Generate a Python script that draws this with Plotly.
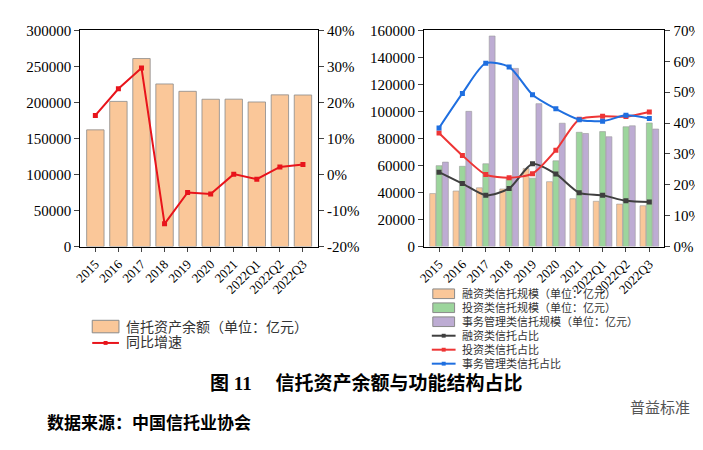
import plotly.graph_objects as go

periods = ['2015', '2016', '2017', '2018', '2019', '2020', '2021', '2022Q1', '2022Q2', '2022Q3']

# left chart
total_assets = [162000, 201500, 261000, 225700, 215500, 204500, 204600, 200700, 210600, 210400]
yoy_growth = [16.4, 23.8, 29.6, -13.7, -5.0, -5.4, 0.1, -1.3, 2.1, 2.8]

# right chart
financing_scale = [39200, 41100, 43500, 42600, 57800, 48000, 35400, 33500, 31400, 30200]
investment_scale = [59900, 59400, 61300, 50500, 50600, 63500, 84600, 85100, 88700, 91500]
affairs_scale = [62500, 100100, 155900, 131900, 105800, 91300, 83700, 81300, 89400, 87000]
financing_share = [24.1, 20.4, 16.6, 18.8, 26.8, 23.5, 17.4, 16.6, 14.8, 14.4]
investment_share = [36.8, 29.5, 23.3, 22.3, 23.6, 31.2, 41.2, 42.2, 42.1, 43.6]
affairs_share = [38.4, 49.6, 59.4, 58.2, 49.2, 44.6, 41.1, 40.6, 42.5, 41.5]

left_ticks = [0, 50000, 100000, 150000, 200000, 250000, 300000]
left_pct = [-20, -10, 0, 10, 20, 30, 40]
right_ticks = [0, 20000, 40000, 60000, 80000, 100000, 120000, 140000, 160000]
right_pct = [0, 10, 20, 30, 40, 50, 60, 70]

NUMFONT = 'Liberation Serif, Times New Roman, serif'
CNFONT = 'Liberation Serif, Noto Sans CJK SC'
ORANGE = '#FAC799'
GREEN = '#9CD59C'
PURPLE = '#BDACD3'
W, H = 703, 450

fig = go.Figure()

fig.add_trace(go.Bar(
    x=periods, y=total_assets, name='信托资产余额（单位：亿元）',
    marker=dict(color=ORANGE, line=dict(color='#8a8a8a', width=0.8)),
    xaxis='x', yaxis='y'))
fig.add_trace(go.Scatter(
    x=periods, y=yoy_growth, name='同比增速', mode='lines+markers',
    line=dict(color='#E8141B', width=2), marker=dict(symbol='square', size=5),
    xaxis='x', yaxis='y2'))

bar_series = [(financing_scale, '融资类信托规模（单位：亿元）', ORANGE),
              (investment_scale, '投资类信托规模（单位：亿元）', GREEN),
              (affairs_scale, '事务管理类信托规模（单位：亿元）', PURPLE)]
line_series = [(financing_share, '融资类信托占比', '#3F3F3F'),
               (investment_share, '投资类信托占比', '#EE3535'),
               (affairs_share, '事务管理类信托占比', '#1F6FE0')]

for vals, name, col in bar_series:
    fig.add_trace(go.Bar(
        x=periods, y=vals, name=name,
        marker=dict(color=col, line=dict(color='#9a9a9a', width=0.6)),
        xaxis='x2', yaxis='y3'))

for vals, name, col in line_series:
    fig.add_trace(go.Scatter(
        x=periods, y=vals, name=name, mode='lines+markers',
        line=dict(color=col, width=2, shape='spline', smoothing=0.7),
        marker=dict(symbol='square', size=5),
        xaxis='x2', yaxis='y4'))

xcommon = dict(type='category', showline=True, linecolor='black', linewidth=1,
               mirror=True, ticks='outside', ticklen=4, tickangle=-45,
               tickfont=dict(family=NUMFONT, size=13, color='black'))
ycommon = dict(showline=True, linecolor='black', linewidth=1, ticks='outside',
               ticklen=5, showgrid=False, zeroline=False,
               minor=dict(ticks='outside', ticklen=3, nticks=2),
               tickfont=dict(family=NUMFONT, size=15, color='black'))
ydom = [1 - 239 / H, 1 - 15 / H]

fig.update_layout(
    width=W, height=H,
    margin=dict(l=0, r=0, t=0, b=0),
    paper_bgcolor='white', plot_bgcolor='white',
    font=dict(family=CNFONT, color='black'),
    showlegend=False,
    barmode='group', bargap=0.18, bargroupgap=0.08,
    xaxis=dict(domain=[66 / W, 306 / W], anchor='y', **xcommon),
    yaxis=dict(range=[0, 300000], tickvals=left_ticks, domain=ydom,
               ticktext=[str(v) for v in left_ticks], anchor='x', **ycommon),
    yaxis2=dict(range=[-20, 40], tickvals=left_pct,
                ticktext=['%d%%' % v for v in left_pct],
                overlaying='y', side='right', anchor='x', **ycommon),
    xaxis2=dict(domain=[413 / W, 656 / W], anchor='y3', **xcommon),
    yaxis3=dict(range=[0, 160000], tickvals=right_ticks, domain=ydom,
                ticktext=[str(v) for v in right_ticks], anchor='x2', **ycommon),
    yaxis4=dict(range=[0, 70], tickvals=right_pct,
                ticktext=['%d%%' % v for v in right_pct],
                overlaying='y3', side='right', anchor='x2', **ycommon),
)


# hand-drawn legends (tighter row spacing than plotly's legend allows)
def legend_box(x0, yc, w, h, color, label, size, tx):
    fig.add_shape(type='rect', xref='paper', yref='paper',
                  x0=x0 / W, x1=(x0 + w) / W, y0=1 - (yc + h / 2) / H, y1=1 - (yc - h / 2) / H,
                  fillcolor=color, line=dict(color='#8a8a8a', width=1))
    fig.add_annotation(text=label, x=tx / W, y=1 - yc / H, xref='paper', yref='paper',
                       xanchor='left', yanchor='middle', showarrow=False,
                       borderpad=0, font=dict(family=CNFONT, size=size, color='#333'))


def legend_line(x0, yc, w, color, label, size, tx):
    fig.add_shape(type='line', xref='paper', yref='paper',
                  x0=x0 / W, x1=(x0 + w) / W, y0=1 - yc / H, y1=1 - yc / H,
                  line=dict(color=color, width=2))
    xm = x0 + w / 2
    fig.add_shape(type='rect', xref='paper', yref='paper',
                  x0=(xm - 2) / W, x1=(xm + 2) / W, y0=1 - (yc + 2) / H, y1=1 - (yc - 2) / H,
                  fillcolor=color, line=dict(width=0))
    fig.add_annotation(text=label, x=tx / W, y=1 - yc / H, xref='paper', yref='paper',
                       xanchor='left', yanchor='middle', showarrow=False,
                       borderpad=0, font=dict(family=CNFONT, size=size, color='#333'))


legend_box(78, 322, 27, 13, ORANGE, '信托资产余额（单位：亿元）', 14, 111)
legend_line(78, 339, 27, '#E8141B', '同比增速', 14, 111)

row_y = [288, 302.5, 317, 331.5, 346, 360.5]
for i, (_, name, col) in enumerate(bar_series):
    legend_box(422, row_y[i], 22, 10, col, name, 11, 450)
for i, (_, name, col) in enumerate(line_series):
    legend_line(421, row_y[i + 3], 24, col, name, 11, 450)

fig.add_annotation(text='<b>图 11　 信托资产余额与功能结构占比</b>', x=355 / W, y=1 - 393 / H,
                   xref='paper', yref='paper', showarrow=False, borderpad=0,
                   font=dict(family=CNFONT, size=19, color='black'))
fig.add_annotation(text='<b>数据来源：中国信托业协会</b>', x=30 / W, y=1 - 434 / H,
                   xref='paper', yref='paper', xanchor='left', showarrow=False,
                   font=dict(family=CNFONT, size=17, color='black'))
fig.add_annotation(text='普益标准', x=684 / W, y=1 - 418 / H,
                   xref='paper', yref='paper', xanchor='right', showarrow=False,
                   font=dict(family='Noto Sans CJK SC', size=15, color='#555'))

fig.write_html('out.html')
